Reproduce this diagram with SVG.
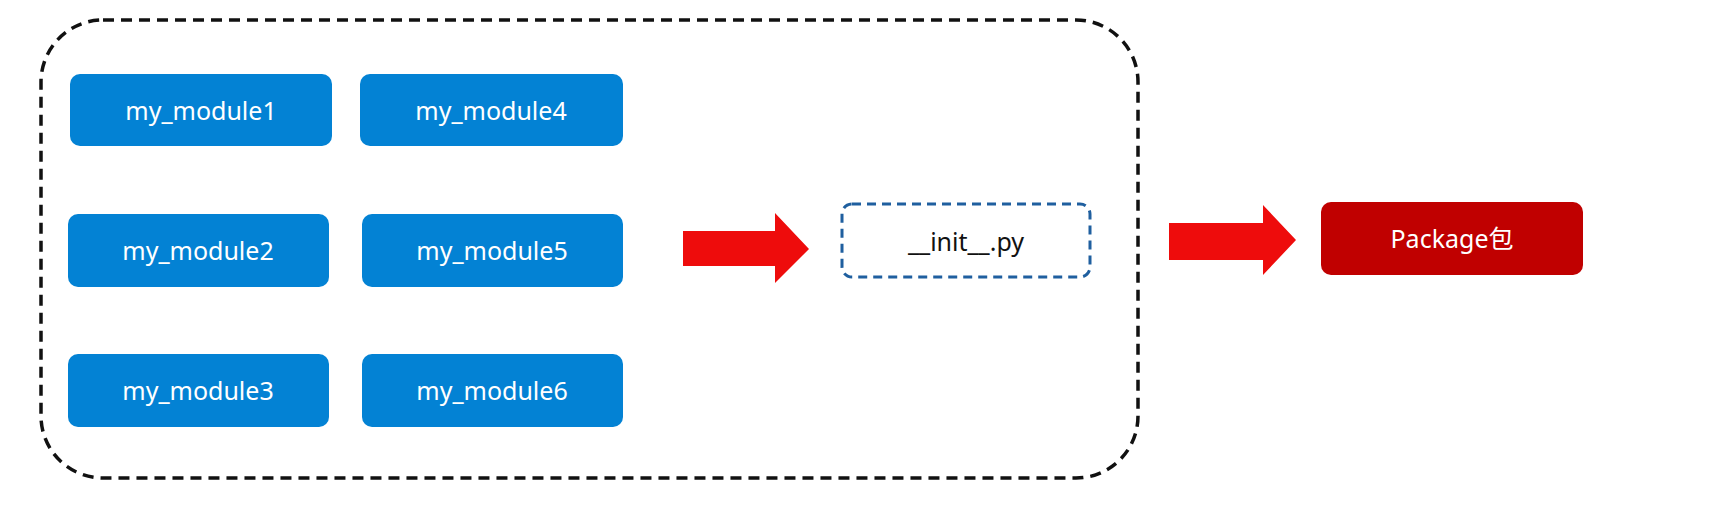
<svg xmlns="http://www.w3.org/2000/svg" width="1722" height="512" viewBox="0 0 1722 512">
<style>
.m{fill:#0382d4;}
.t{font-family:"Noto Sans","Noto Sans CJK SC",sans-serif;font-size:25px;text-anchor:middle;dominant-baseline:central;}
.w{fill:#fff;}
.arr{fill:#ee0c0c;}
</style>
<rect width="1722" height="512" fill="#fff"/>
<rect id="container" x="41" y="20" width="1097" height="458" rx="62" fill="none" stroke="#111" stroke-width="3.5" stroke-dasharray="11 7"/>
<g id="module1"><rect class="m" x="70" y="74" width="262" height="72" rx="10"/><text class="t w" x="201" y="110">my_module1</text></g>
<g id="module4"><rect class="m" x="360" y="74" width="263" height="72" rx="10"/><text class="t w" x="491" y="110">my_module4</text></g>
<g id="module2"><rect class="m" x="68" y="214" width="261" height="73" rx="10"/><text class="t w" x="198" y="250">my_module2</text></g>
<g id="module5"><rect class="m" x="362" y="214" width="261" height="73" rx="10"/><text class="t w" x="492" y="250">my_module5</text></g>
<g id="module3"><rect class="m" x="68" y="354" width="261" height="73" rx="10"/><text class="t w" x="198" y="390">my_module3</text></g>
<g id="module6"><rect class="m" x="362" y="354" width="261" height="73" rx="10"/><text class="t w" x="492" y="390">my_module6</text></g>
<g id="init"><rect x="842" y="204" width="248" height="73" rx="10" fill="#fff" stroke="#1f5f9f" stroke-width="3" stroke-dasharray="9 6"/><text class="t" x="966" y="241" fill="#111">__init__.py</text></g>
<g id="package"><rect x="1321" y="202" width="262" height="73" rx="10" fill="#c00000"/><text class="t w" x="1452" y="238">Package包</text></g>
<g id="connectors">
<polygon class="arr" points="683,231 775,231 775,213 809,249 775,283 775,266 683,266"/>
<polygon class="arr" points="1169,223 1263,223 1263,205 1296,240 1263,275 1263,260 1169,260"/>
</g>
</svg>
